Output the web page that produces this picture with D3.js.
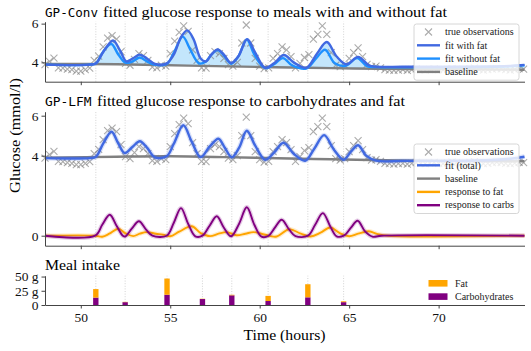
<!DOCTYPE html>
<html>
<head>
<meta charset="utf-8">
<script src="https://cdn.jsdelivr.net/npm/d3@7"></script>
<style>
  body { margin: 0; background: #fff; }
  svg { display: block; }
</style>
</head>
<body>
<div id="chart"></div>
<script>
// meals: time (hours), grams
const mealTimes = [50.84, 52.48, 54.82, 56.8, 58.44, 60.47, 62.69, 64.69];
const mealCarbs = [13, 5, 18, 10.5, 17, 7, 13.5, 5];
const mealFat = [15, 0.5, 28.5, 0.5, 1, 9, 23, 1.5];

// CGM observations [time, mmol/l]
const observations = [
  [48.00, 3.88], [48.25, 4.05], [48.50, 4.22], [48.75, 3.72], [49.00, 3.70], [49.25, 3.65],
  [49.50, 3.62], [49.75, 3.55], [50.00, 3.55], [50.25, 3.62], [50.50, 3.70], [50.75, 4.10],
  [51.00, 4.32], [51.25, 4.80], [51.50, 5.25], [51.75, 5.38], [52.00, 5.20], [52.25, 4.55],
  [52.50, 3.95], [52.75, 3.85], [53.00, 4.15], [53.25, 4.45], [53.50, 4.35], [53.75, 4.10],
  [54.00, 3.75], [54.25, 3.72], [54.50, 3.85], [54.75, 3.80], [55.00, 4.45], [55.25, 5.10],
  [55.50, 5.55], [55.75, 5.88], [56.00, 5.60], [56.25, 4.65], [56.50, 4.10], [56.75, 3.72],
  [57.00, 3.70], [57.25, 4.35], [57.50, 4.55], [57.75, 4.45], [58.00, 4.20], [58.25, 3.88],
  [58.50, 3.80], [58.75, 4.00], [59.00, 5.00], [59.25, 5.93], [59.50, 5.00], [59.75, 4.20],
  [60.00, 3.80], [60.25, 3.68], [60.50, 3.72], [60.75, 4.20], [61.00, 4.45], [61.25, 4.80],
  [61.50, 4.65], [61.75, 4.30], [62.00, 3.72], [62.25, 3.95], [62.50, 4.25], [62.75, 4.40],
  [63.00, 5.20], [63.25, 5.45], [63.50, 5.88], [63.75, 5.45], [64.00, 4.50], [64.25, 3.85],
  [64.50, 3.78], [64.75, 3.85], [65.00, 4.20], [65.25, 4.50], [65.50, 4.75], [65.75, 4.30],
  [66.00, 3.90], [66.25, 3.78], [66.50, 3.80], [66.75, 3.72], [67.00, 3.62], [67.25, 3.60],
  [67.50, 3.58], [67.75, 3.60], [68.00, 3.62], [68.25, 3.58], [68.50, 3.62], [68.75, 3.66],
  [69.00, 3.62], [69.25, 3.60], [69.50, 3.63], [69.75, 3.66], [70.00, 3.62], [70.25, 3.60],
  [70.50, 3.64], [70.75, 3.68], [71.00, 3.65], [71.25, 3.60], [71.50, 3.62], [71.75, 3.66],
  [72.00, 3.70], [72.25, 3.64], [72.50, 3.60], [72.75, 3.62], [73.00, 3.65], [73.25, 3.68],
  [73.50, 3.66], [73.75, 3.62], [74.00, 3.60], [74.25, 3.63], [74.50, 3.67], [74.75, 3.65]
];

// GP-Conv panel
const convFitWithFat = [
  [48, 3.88], [50.5, 3.88], [50.85, 3.95], [51.3, 4.6], [51.8, 5.13], [52.2, 4.6], [52.55, 4.05],
  [52.9, 4.2], [53.3, 4.4], [53.7, 4.2], [54.15, 3.92], [54.8, 3.95], [55.2, 4.4], [55.6, 5.3],
  [55.95, 5.65], [56.3, 5.2], [56.7, 4.2], [57.0, 4.05], [57.3, 4.4], [57.65, 4.67], [58.0, 4.4],
  [58.4, 3.97], [58.8, 4.3], [59.3, 5.2], [59.75, 4.5], [60.3, 3.72], [60.8, 3.95], [61.35, 4.38],
  [61.9, 4.0], [62.6, 3.72], [63.2, 4.45], [63.75, 5.05], [64.3, 4.3], [64.85, 3.9], [65.5, 4.28],
  [66.1, 3.85], [66.5, 3.78], [68, 3.77], [72, 3.78], [74, 3.82], [74.8, 3.87]
];
const convFitNoFat = [
  [48, 3.88], [50.5, 3.88], [50.85, 3.95], [51.25, 4.55], [51.7, 4.95], [52.1, 4.4], [52.5, 3.98],
  [52.9, 4.05], [53.3, 4.25], [53.7, 4.05], [54.1, 3.88], [54.8, 3.92], [55.2, 4.5], [55.7, 5.33],
  [56.1, 4.7], [56.6, 3.95], [57.0, 4.05], [57.3, 4.4], [57.65, 4.64], [58.0, 4.35], [58.4, 3.93],
  [58.8, 4.3], [59.28, 5.18], [59.7, 4.4], [60.3, 3.7], [60.8, 3.9], [61.3, 4.22], [61.8, 3.85],
  [62.6, 3.68], [63.15, 4.2], [63.65, 4.65], [64.2, 3.95], [64.8, 3.82], [65.45, 4.22], [66.0, 3.8],
  [66.5, 3.76], [68, 3.75], [72, 3.76], [74, 3.8], [74.8, 3.85]
];
const convBaseline = [[48, 3.92], [52, 3.9], [56, 3.83], [60, 3.76], [64, 3.7], [68, 3.66], [74.8, 3.62]];

// GP-LFM panel
const lfmFitTotal = [
  [48, 3.88], [50.5, 3.88], [50.85, 3.95], [51.25, 4.6], [51.72, 5.2], [52.1, 4.6], [52.46, 4.13],
  [52.9, 4.45], [53.3, 4.72], [53.7, 4.4], [54.14, 3.92], [54.8, 3.97], [55.2, 4.6], [55.73, 5.52],
  [56.2, 4.7], [56.7, 3.93], [57.2, 4.45], [57.69, 4.85], [58.05, 4.4], [58.44, 3.92], [58.85, 4.4],
  [59.28, 5.25], [59.75, 4.5], [60.3, 3.8], [60.8, 4.15], [61.33, 4.65], [61.9, 4.1], [62.54, 3.75],
  [63.05, 4.35], [63.6, 5.03], [64.15, 4.3], [64.69, 3.8], [65.1, 4.2], [65.5, 4.52], [65.95, 4.0],
  [66.5, 3.75], [68, 3.74], [72, 3.76], [74, 3.85], [74.8, 3.95]
];
const lfmBaseline = [[48, 3.9], [52, 3.95], [55, 3.97], [58, 3.93], [61, 3.87], [64, 3.82], [67, 3.77], [70, 3.74], [74.8, 3.72]];
const lfmFat = [
  [48, 0], [50.8, 0], [51.2, -0.05], [51.6, 0.1], [52.1, 0.35], [52.5, 0.12], [52.93, -0.02],
  [53.3, 0.1], [53.67, 0.18], [54.2, 0.1], [54.6, 0.05], [55.0, -0.03], [55.5, 0.2], [56.2, 0.47],
  [56.7, 0.13], [57.22, -0.02], [57.7, 0.1], [58.16, 0.18], [58.7, 0.02], [59.2, 0.1], [59.65, 0.18],
  [60.1, 0.1], [60.6, -0.02], [60.95, -0.04], [61.65, 0.32], [62.3, 0.1], [62.85, -0.04], [63.4, 0.15],
  [63.94, 0.41], [64.5, 0.12], [65.0, -0.03], [65.5, 0.1], [66.1, 0.22], [66.6, 0.08], [67.2, 0], [74.8, 0]
];
const lfmCarbs = [
  [48, 0], [50.8, 0], [51.2, 0.55], [51.62, 1.05], [52.0, 0.5], [52.35, 0.0], [52.5, -0.03],
  [52.85, 0.35], [53.25, 0.72], [53.65, 0.3], [54.0, 0], [54.8, 0], [55.2, 0.65], [55.6, 1.38],
  [56.0, 0.6], [56.4, -0.03], [56.8, 0], [57.2, 0.5], [57.6, 0.97], [58.0, 0.4], [58.4, -0.03],
  [58.85, 0.6], [59.28, 1.42], [59.7, 0.55], [60.1, -0.05], [60.5, 0], [60.85, 0.4], [61.23, 0.8],
  [61.65, 0.3], [62.0, -0.02], [62.7, 0], [63.1, 0.55], [63.53, 1.13], [63.95, 0.45], [64.3, -0.03],
  [64.7, 0], [65.1, 0.4], [65.47, 0.75], [65.9, 0.2], [66.3, -0.05], [66.8, 0], [74.8, 0]
];

const xTicks = [50, 55, 60, 65, 70];

const W = 531, H = 351;
const serif = '"Liberation Serif", "DejaVu Serif", serif';
const mono = '"DejaVu Sans Mono", "Liberation Mono", monospace';

const svg = d3.select('#chart').append('svg').attr('width', W).attr('height', H);

const x = d3.scaleLinear().domain([48, 74.8]).range([45, 524.5]);
const yTop = d3.scaleLinear().domain([3, 6.1]).range([81.7, 21.7]);
const yMid = d3.scaleLinear().domain([-0.5, 6.2]).range([245.7, 111.7]);
const yBot = d3.scaleLinear().domain([0, 51.5]).range([305, 275.7]);

const lineFor = y => d3.line().x(d => x(d[0])).y(d => y(d[1])).curve(d3.curveCatmullRom.alpha(0.5));

function fitText(sel, w) {
  return sel.attr('textLength', w).attr('lengthAdjust', 'spacingAndGlyphs');
}

function mealLines(y) {
  svg.append('g').selectAll('line').data(mealTimes).join('line')
    .attr('x1', d => x(d)).attr('x2', d => x(d))
    .attr('y1', y.range()[0]).attr('y2', y.range()[1])
    .attr('stroke', '#c8c8c8').attr('stroke-width', 0.8).attr('stroke-dasharray', '1,1.6');
}

function axes(y, yTicks, yFmt, showX) {
  const ya = svg.append('g').attr('transform', `translate(${x.range()[0]},0)`)
    .call(d3.axisLeft(y).tickValues(yTicks).tickFormat(yFmt).tickSize(3.5).tickPadding(3).tickSizeOuter(0));
  const xa = svg.append('g').attr('transform', `translate(0,${y.range()[0]})`)
    .call(d3.axisBottom(x).tickValues(xTicks).tickSize(3.5).tickPadding(4).tickSizeOuter(0)
      .tickFormat(showX ? d3.format('d') : ''));
  [ya, xa].forEach(a => {
    a.select('.domain').attr('stroke', '#444').attr('stroke-width', 1);
    a.selectAll('.tick line').attr('stroke', '#444').attr('stroke-width', 1);
    a.selectAll('text').attr('font-family', serif).attr('font-size', 13.5).attr('fill', '#111');
  });
}

function crosses(y) {
  svg.append('g').selectAll('path').data(observations).join('path')
    .attr('transform', d => `translate(${x(d[0])},${y(d[1])})`)
    .attr('d', 'M-3.5,-3.5L3.5,3.5M-3.5,3.5L3.5,-3.5')
    .attr('stroke', '#808080').attr('stroke-width', 1.1).attr('opacity', 0.65).attr('fill', 'none');
}

function drawLine(data, y, color, width, halo) {
  if (halo) {
    svg.append('path').attr('d', lineFor(y)(data)).attr('fill', 'none')
      .attr('stroke', color).attr('stroke-width', width + 2.5).attr('opacity', 0.2);
  }
  svg.append('path').attr('d', lineFor(y)(data)).attr('fill', 'none')
    .attr('stroke', color).attr('stroke-width', width).attr('stroke-linejoin', 'round');
}

function legend(x0, y0, w, items) {
  const g = svg.append('g');
  const step = 13.3;
  g.append('rect').attr('x', x0).attr('y', y0).attr('width', w).attr('height', items.length * step + 3)
    .attr('rx', 2.5).attr('fill', '#fff').attr('fill-opacity', 0.8).attr('stroke', '#ccc').attr('stroke-width', 0.8);
  items.forEach((it, i) => {
    const cy = y0 + 8 + i * step;
    if (it.type === 'cross') {
      g.append('path').attr('transform', `translate(${x0 + 14.5},${cy})`).attr('d', 'M-3.5,-3.5L3.5,3.5M-3.5,3.5L3.5,-3.5')
        .attr('stroke', '#808080').attr('stroke-width', 1.1).attr('opacity', 0.65);
    } else {
      g.append('line').attr('x1', x0 + 3).attr('x2', x0 + 26).attr('y1', cy).attr('y2', cy)
        .attr('stroke', it.color).attr('stroke-width', 2.4);
    }
    g.append('text').attr('x', x0 + 31).attr('y', cy + 3.2).attr('font-family', serif).attr('font-size', 10)
      .attr('fill', '#222').text(it.label);
  });
}

// ---- top panel: GP-Conv
mealLines(yTop);
{
  const upper = lineFor(yTop)(convFitWithFat);
  const lower = lineFor(yTop)(convBaseline.slice().reverse());
  svg.append('path').attr('d', upper + 'L' + lower.slice(1) + 'Z')
    .attr('fill', '#87cefa').attr('fill-opacity', 0.5);
}
crosses(yTop);
drawLine(convBaseline, yTop, '#808080', 2.4);
drawLine(convFitNoFat, yTop, '#1e90ff', 2.4);
drawLine(convFitWithFat, yTop, '#4169e1', 2.4);
axes(yTop, [4, 6], d3.format('d'), false);
fitText(svg.append('text').attr('x', 45).attr('y', 16.5).attr('font-family', mono).attr('font-size', 12.5)
  .text('GP-Conv'), 53);
fitText(svg.append('text').attr('x', 103).attr('y', 16.5).attr('font-family', serif).attr('font-size', 15)
  .text('fitted glucose response to meals with and without fat'), 344);
legend(414, 24, 105, [
  { type: 'cross', label: 'true observations' },
  { color: '#4169e1', label: 'fit with fat' },
  { color: '#1e90ff', label: 'fit without fat' },
  { color: '#808080', label: 'baseline' }
]);

// ---- middle panel: GP-LFM
mealLines(yMid);
crosses(yMid);
drawLine(lfmBaseline, yMid, '#808080', 2.4);
drawLine(lfmFitTotal, yMid, '#4169e1', 2.4, true);
drawLine(lfmFat, yMid, '#ffa500', 1.9, true);
drawLine(lfmCarbs, yMid, '#800080', 1.9, true);
axes(yMid, [0, 4, 6], d3.format('d'), false);
fitText(svg.append('text').attr('x', 45).attr('y', 105.5).attr('font-family', mono).attr('font-size', 12.5)
  .text('GP-LFM'), 46.5);
fitText(svg.append('text').attr('x', 97).attr('y', 105.5).attr('font-family', serif).attr('font-size', 15)
  .text('fitted glucose response to carbohydrates and fat'), 308);
legend(414, 144, 105, [
  { type: 'cross', label: 'true observations' },
  { color: '#4169e1', label: 'fit (total)' },
  { color: '#808080', label: 'baseline' },
  { color: '#ffa500', label: 'response to fat' },
  { color: '#800080', label: 'response to carbs' }
]);

// ---- bottom panel: meals
mealLines(yBot);
const bw = x(48.15) - x(48);
const bars = svg.append('g');
bars.selectAll('rect.c').data(mealTimes).join('rect').attr('class', 'c')
  .attr('x', d => x(d) - bw).attr('width', bw * 2)
  .attr('y', (d, i) => yBot(mealCarbs[i])).attr('height', (d, i) => yBot(0) - yBot(mealCarbs[i]))
  .attr('fill', '#800080');
bars.selectAll('rect.f').data(mealTimes).join('rect').attr('class', 'f')
  .attr('x', d => x(d) - bw).attr('width', bw * 2)
  .attr('y', (d, i) => yBot(mealCarbs[i] + mealFat[i]))
  .attr('height', (d, i) => yBot(mealCarbs[i]) - yBot(mealCarbs[i] + mealFat[i]))
  .attr('fill', '#ffa500');
axes(yBot, [0, 25, 50], d => d === 0 ? '0' : d + ' g', true);
fitText(svg.append('text').attr('x', 45).attr('y', 269.5).attr('font-family', serif).attr('font-size', 14)
  .text('Meal intake'), 75);

const lg = svg.append('g');
[{ c: '#ffa500', l: 'Fat' }, { c: '#800080', l: 'Carbohydrates' }].forEach((d, i) => {
  const cy = 283.3 + i * 13.3;
  lg.append('rect').attr('x', 428.5).attr('y', cy - 3.3).attr('width', 19).attr('height', 6.6).attr('fill', d.c);
  lg.append('text').attr('x', 455).attr('y', cy + 3.2).attr('font-family', serif).attr('font-size', 10)
    .attr('fill', '#222').text(d.l);
});

// axis titles
fitText(svg.append('text').attr('x', 243.5).attr('y', 340).attr('font-family', serif).attr('font-size', 15)
  .text('Time (hours)'), 82);
fitText(svg.append('text').attr('transform', 'translate(19.5,193) rotate(-90)').attr('font-family', serif)
  .attr('font-size', 15).text('Glucose (mmol/l)'), 115);
</script>
</body>
</html>
